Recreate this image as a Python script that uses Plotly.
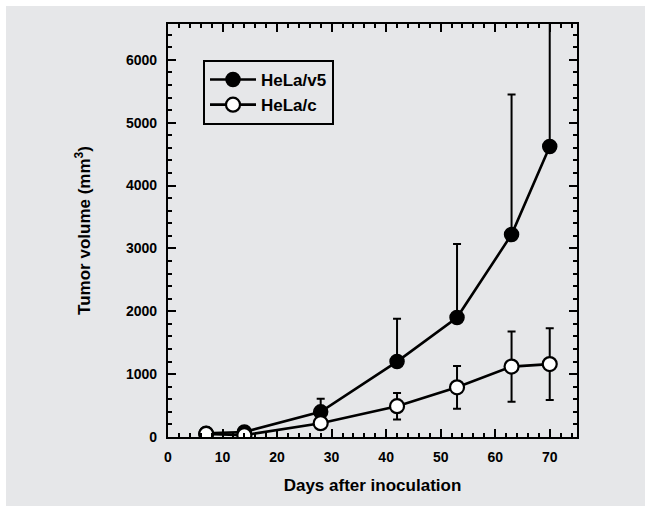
import plotly.graph_objects as go

days = [7, 14, 28, 42, 53, 63, 70]
v5_mean = [60, 80, 400, 1200, 1900, 3220, 4620]
v5_err_up = [30, 40, 210, 680, 1170, 2230, 2600]
c_mean = [50, 30, 220, 490, 790, 1120, 1160]
c_err = [20, 20, 60, 210, 340, 560, 570]

FONT = "Liberation Sans, Arial, sans-serif"

fig = go.Figure()
fig.add_trace(go.Scatter(
    x=days, y=v5_mean, name="HeLa/v5", mode="lines+markers",
    line=dict(color="black", width=2.6),
    marker=dict(symbol="circle", size=14, color="black", line=dict(color="black", width=1.5)),
    error_y=dict(type="data", array=v5_err_up, arrayminus=[0] * len(days), symmetric=False,
                 color="black", thickness=2, width=4),
))
fig.add_trace(go.Scatter(
    x=days, y=c_mean, name="HeLa/c", mode="lines+markers",
    line=dict(color="black", width=2.6),
    marker=dict(symbol="circle", size=14, color="white", line=dict(color="black", width=2.2)),
    error_y=dict(type="data", array=c_err, color="black", thickness=2, width=4),
))

L, R, T, B = 168, 68, 24, 70
W, H = 645, 507
pw, ph = W - L - R, H - T - B
fig.add_shape(type="rect", xref="paper", yref="paper", layer="below",
              x0=(6 - L) / pw, x1=(W + 5 - L) / pw,
              y0=((H - B) - 506) / ph, y1=((H - B) - 6) / ph,
              fillcolor="#e6e7e9", line=dict(width=0))

axis_common = dict(
    showline=True, linecolor="black", linewidth=2.2, mirror="allticks",
    ticks="inside", ticklen=8, tickwidth=2, tickcolor="black",
    showgrid=False, zeroline=False,
    tickfont=dict(family=FONT, size=14, color="black", weight="bold"),
)
fig.update_xaxes(range=[0, 75], dtick=10, tick0=0, ticklabelstandoff=6,
                 minor=dict(dtick=2, ticks="inside", ticklen=4, tickwidth=1.5, tickcolor="black"),
                 title=dict(text="Days after inoculation", font=dict(family=FONT, size=17, color="black", weight="bold"),
                            standoff=15),
                 **axis_common)
fig.update_yaxes(range=[0, 6570], dtick=1000, tick0=0, ticklabelstandoff=6,
                 minor=dict(dtick=200, ticks="inside", ticklen=4, tickwidth=1.5, tickcolor="black"),
                 title=dict(text="Tumor volume (mm<sup>3</sup>)", font=dict(family=FONT, size=17, color="black", weight="bold"),
                            standoff=31),
                 **axis_common)

fig.update_layout(
    width=W, height=H,
    margin=dict(l=L, r=R, t=T, b=B),
    paper_bgcolor="white", plot_bgcolor="rgba(0,0,0,0)",
    showlegend=True,
    legend=dict(x=(203 - L) / pw, y=(H - B - 60) / ph, xanchor="left", yanchor="top",
                bgcolor="rgba(0,0,0,0)", bordercolor="black", borderwidth=2,
                font=dict(family=FONT, size=17, color="black", weight="bold"),
                tracegroupgap=0, itemwidth=46),
)

fig.write_html("out.html")
